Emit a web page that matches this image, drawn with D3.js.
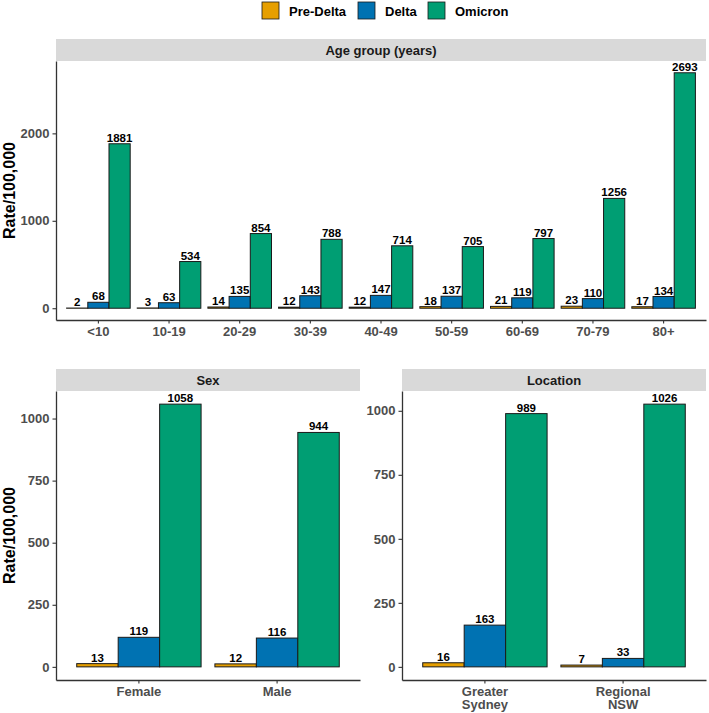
<!DOCTYPE html>
<html>
<head>
<meta charset="utf-8">
<script src="https://cdn.jsdelivr.net/npm/d3@7"></script>
<style>
  body { margin: 0; background: #fff; }
  svg { display: block; font-family: "Liberation Sans", Arial, sans-serif; }
</style>
</head>
<body>
<div id="chart"></div>
<script>
// data
const seriesNames = ["Pre-Delta", "Delta", "Omicron"];
const seriesColors = ["#E69F00", "#0072B2", "#009E73"];

const ageGroups = ["<10", "10-19", "20-29", "30-39", "40-49", "50-59", "60-69", "70-79", "80+"];
const agePreDelta = [2, 3, 14, 12, 12, 18, 21, 23, 17];
const ageDelta = [68, 63, 135, 143, 147, 137, 119, 110, 134];
const ageOmicron = [1881, 534, 854, 788, 714, 705, 797, 1256, 2693];
const ageTicks = [0, 1000, 2000];

const sexGroups = ["Female", "Male"];
const sexPreDelta = [13, 12];
const sexDelta = [119, 116];
const sexOmicron = [1058, 944];
const sexTicks = [0, 250, 500, 750, 1000];

const locGroups = ["Greater\nSydney", "Regional\nNSW"];
const locPreDelta = [16, 7];
const locDelta = [163, 33];
const locOmicron = [989, 1026];
const locTicks = [0, 250, 500, 750, 1000];

const width = 709, height = 713;
const svg = d3.select("#chart").append("svg")
  .attr("width", width)
  .attr("height", height);

// legend
const legendItems = [
  { x: 262, label: seriesNames[0], color: seriesColors[0] },
  { x: 358, label: seriesNames[1], color: seriesColors[1] },
  { x: 428, label: seriesNames[2], color: seriesColors[2] },
];
const legend = svg.append("g");
legendItems.forEach((d) => {
  legend.append("rect")
    .attr("x", d.x).attr("y", 2)
    .attr("width", 17).attr("height", 17)
    .attr("fill", d.color)
    .attr("stroke", "#1a1a1a").attr("stroke-width", 0.8);
  legend.append("text")
    .attr("x", d.x + 27).attr("y", 15.5)
    .attr("font-size", 13).attr("font-weight", "bold")
    .attr("fill", "#000")
    .text(d.label);
});

function drawPanel(cfg) {
  const { x0, x1, stripTop, top, bottom, title, groups, values, ticks } = cfg;
  const g = svg.append("g");

  // strip
  g.append("rect")
    .attr("x", x0).attr("y", stripTop)
    .attr("width", x1 - x0).attr("height", top - stripTop)
    .attr("fill", "#D9D9D9");
  g.append("text")
    .attr("x", (x0 + x1) / 2).attr("y", (stripTop + top) / 2 + 4.5)
    .attr("text-anchor", "middle")
    .attr("font-size", 13).attr("font-weight", "bold")
    .attr("fill", "#1A1A1A")
    .text(title);

  const maxV = d3.max(values.flat());
  const y = d3.scaleLinear()
    .domain([-0.05 * maxV, 1.05 * maxV])
    .range([bottom, top]);

  const x = d3.scaleBand()
    .domain(groups)
    .range([x0, x1])
    .paddingInner(0.1)
    .paddingOuter(0.15);
  const xs = d3.scaleBand()
    .domain(seriesNames)
    .range([0, x.bandwidth()]);

  const rows = groups.map((grp, i) => ({
    grp,
    vals: seriesNames.map((s, j) => ({ s, j, v: values[j][i] })),
  }));

  const grp = g.selectAll(".grp")
    .data(rows).enter().append("g")
    .attr("transform", (d) => `translate(${x(d.grp)},0)`);

  grp.selectAll("rect")
    .data((d) => d.vals).enter().append("rect")
    .attr("x", (d) => xs(d.s))
    .attr("y", (d) => y(d.v))
    .attr("width", xs.bandwidth())
    .attr("height", (d) => y(0) - y(d.v))
    .attr("fill", (d) => seriesColors[d.j])
    .attr("stroke", "#1a1a1a")
    .attr("stroke-width", 1);

  grp.selectAll("text")
    .data((d) => d.vals).enter().append("text")
    .attr("x", (d) => xs(d.s) + xs.bandwidth() / 2)
    .attr("y", (d) => y(d.v) - 2)
    .attr("text-anchor", "middle")
    .attr("font-size", 11.5).attr("font-weight", "bold")
    .attr("fill", "#000")
    .text((d) => d.v);

  // axes
  const yAxis = g.append("g")
    .attr("transform", `translate(${x0},0)`)
    .call(d3.axisLeft(y).tickValues(ticks).tickFormat(d3.format("d"))
      .tickSizeInner(3.5).tickSizeOuter(0).tickPadding(3));
  const xAxis = g.append("g")
    .attr("transform", `translate(0,${bottom})`)
    .call(d3.axisBottom(x).tickSizeInner(3.5).tickSizeOuter(0).tickPadding(3).tickFormat(""));

  [yAxis, xAxis].forEach((a) => {
    a.select(".domain").attr("stroke", "#333").attr("stroke-width", 1.3);
    a.selectAll(".tick line").attr("stroke", "#333").attr("stroke-width", 1.1);
    a.selectAll(".tick text")
      .attr("font-family", "Liberation Sans, Arial, sans-serif")
      .attr("font-size", 13).attr("font-weight", "bold")
      .attr("fill", "#4D4D4D");
  });

  // multi-line x labels
  xAxis.selectAll(".tick").each(function (d) {
    const t = d3.select(this).select("text");
    t.text(null);
    d.split("\n").forEach((line, k) => {
      t.append("tspan")
        .attr("x", 0)
        .attr("dy", k === 0 ? "0.71em" : "1.05em")
        .text(line);
    });
  });

  if (cfg.yTitle) {
    svg.append("text")
      .attr("transform", `translate(15,${(top + bottom) / 2}) rotate(-90)`)
      .attr("text-anchor", "middle")
      .attr("font-size", 16).attr("font-weight", "bold")
      .attr("fill", "#000")
      .text("Rate/100,000");
  }
}

drawPanel({
  x0: 56, x1: 706, stripTop: 39, top: 61, bottom: 320,
  title: "Age group (years)", groups: ageGroups,
  values: [agePreDelta, ageDelta, ageOmicron], ticks: ageTicks, yTitle: true,
});
drawPanel({
  x0: 56, x1: 360, stripTop: 369, top: 391, bottom: 680,
  title: "Sex", groups: sexGroups,
  values: [sexPreDelta, sexDelta, sexOmicron], ticks: sexTicks, yTitle: true,
});
drawPanel({
  x0: 402, x1: 706, stripTop: 369, top: 391, bottom: 680,
  title: "Location", groups: locGroups,
  values: [locPreDelta, locDelta, locOmicron], ticks: locTicks, yTitle: false,
});
</script>
</body>
</html>
